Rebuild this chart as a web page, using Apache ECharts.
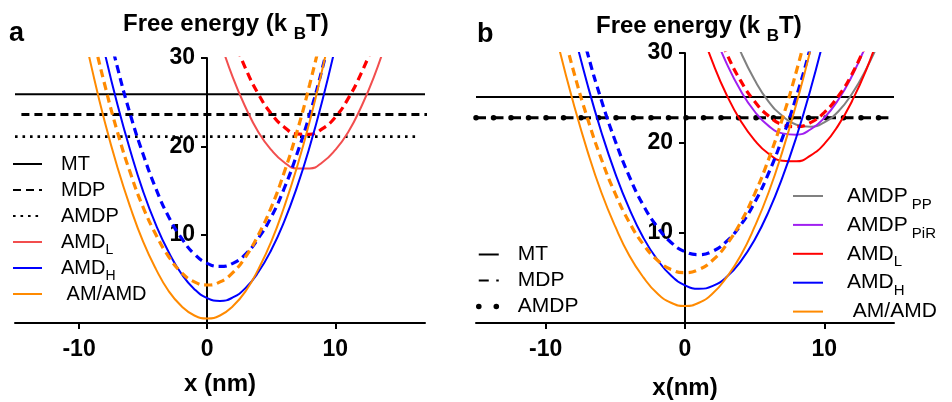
<!DOCTYPE html>
<html><head><meta charset="utf-8">
<script src="https://cdn.jsdelivr.net/npm/echarts@6/dist/echarts.min.js"></script>
<style>html,body{margin:0;padding:0;background:#fff}#c{width:952px;height:402px}</style>
</head><body><div id="c"></div>
<script>
// ---------- data ----------
const xTicks = [-10, 0, 10];
const yTicks = [10, 20, 30];
// Panel a : horizontal levels
const aMTx = [-15, 17],   aMTy = [25.9, 25.9];
const aMDPx = [-14.5, 17.2], aMDPy = [23.6, 23.6];
const aAMDPx = [-15, 16.6], aAMDPy = [21.1, 21.1];
// Panel a : profiles
const aAMx = [-10,-9,-8,-7,-6,-5,-4,-3,-2,-1,0,1,2,3,4,5,6,7,8,9,10];
const aAMy = [35.4,28.8,22.8,17.6,13.1,9.2,6.1,3.6,1.9,0.85,0.5,0.85,1.9,3.6,6.1,9.2,13.1,17.6,22.8,28.8,35.4];
const aAMdx = [-9,-8,-7,-6,-5,-4,-3,-2,-1,0,1,2,3,4,5,6,7,8,9];
const aAMdy = [33.0,27.0,21.6,17.0,13.1,10.0,7.5,5.7,4.65,4.3,4.65,5.7,7.5,10.0,13.1,17.0,21.6,27.0,33.0];
const aHx = [-9,-8,-7,-6,-5,-4,-3,-2,-1,0,1,2,3,4,5,6,7,8,9,10,11];
const aHy = [37.2,30.6,24.7,19.5,14.9,11.1,8.0,5.55,3.83,2.82,2.5,2.89,3.97,5.77,8.26,11.45,15.35,19.95,25.25,31.25,37.9];
const aHdx = [-8,-7,-6,-5,-4,-3,-2,-1,0,1,2,3,4,5,6,7,8,9,10];
const aHdy = [34.9,28.9,23.6,19.1,15.2,12.0,9.6,7.8,6.75,6.4,6.75,7.8,9.6,12.0,15.2,19.1,23.6,28.9,34.9];
const aLx = [1,2,3,4,5,6,7,8,9,10,11,12,13,14];
const aLy = [32.0,27.8,24.4,21.6,19.6,18.2,17.5,17.5,18.2,19.6,21.6,24.4,27.8,32.0];
const aLdx = [2,3,4,5,6,7,8,9,10,11,12,13];
const aLdy = [32.4,28.8,25.9,23.7,22.2,21.4,21.36,22.0,23.3,25.4,28.2,31.6];
// Panel b : horizontal levels
const bMTx = [-15, 15], bMTy = [25.1, 25.1];
const bMDPx = [-15, 14.6], bMDPy = [22.8, 22.8];
const bAMDPx = [-15, 14.6], bAMDPy = [22.8, 22.8];
// Panel b : profiles
const bAMx = [-10,-9,-8,-7,-6,-5,-4,-3,-2,-1,0,1,2,3,4,5,6,7,8,9,10];
const bAMy = [37.0,30.3,24.4,19.1,14.5,10.7,7.5,5.1,3.3,2.25,1.9,2.25,3.3,5.1,7.5,10.7,14.5,19.1,24.4,30.3,37.0];
const bAMdx = [-9,-8,-7,-6,-5,-4,-3,-2,-1,0,1,2,3,4,5,6,7,8,9];
const bAMdy = [33.95,28.0,22.75,18.2,14.35,11.2,8.75,7.0,5.95,5.6,5.95,7.0,8.75,11.2,14.35,18.2,22.75,28.0,33.95];
const bHx = [-9,-8,-7,-6,-5,-4,-3,-2,-1,0,1,2,3,4,5,6,7,8,9,10,11];
const bHy = [39.2,32.5,26.5,21.2,16.6,12.7,9.5,7.06,5.27,4.19,3.8,4.12,5.13,6.85,9.26,12.38,16.2,20.7,25.9,31.8,38.5];
const bHdx = [-8,-7,-6,-5,-4,-3,-2,-1,0,1,2,3,4,5,6,7,8,9,10];
const bHdy = [36.0,30.0,24.75,20.2,16.3,13.1,10.7,8.95,7.92,7.6,7.99,9.09,10.9,13.4,16.65,20.6,25.2,30.6,36.7];
const bLx = [1,2,3,4,5,6,7,8,9,10,11,12,13,14];
const bLy = [33.2,28.9,25.3,22.45,20.3,18.8,18.03,17.96,18.6,19.9,21.96,24.7,28.1,32.3];
const bLdx = [2,3,4,5,6,7,8,9,10,11,12,13];
const bLdy = [33.6,29.9,26.9,24.6,23.0,22.05,21.81,22.26,23.4,25.2,27.7,31.0];
const bPiRx = [2,3,4,5,6,7,8,9,10,11,12,13];
const bPiRy = [32.5,28.8,25.8,23.5,21.9,21.07,20.93,21.5,22.8,24.8,27.5,30.9];
const bPPx = [3,4,5,6,7,8,9,10,11,12,13,14];
const bPPy = [33.9,30.1,27.0,24.6,23.0,22.03,21.81,22.3,23.5,25.5,28.2,31.5];

// ---------- styling ----------
const FONT = '"Liberation Sans", Arial, sans-serif';
const ORANGE = '#ff8a00', BLUE = '#0000ff', LRED = '#f24e4e', RED = '#ff0000', PURPLE = '#a020f0', GRAY = '#808080';
const DASH = [8, 5];

function zip(xs, ys){ return xs.map((x,i)=>[x, ys[i]]); }
function mk(name, idx, xs, ys, color, lineType, width, cap){
  return {type:'line', name, xAxisIndex:idx, yAxisIndex:idx, data:zip(xs,ys), smooth: xs.length>2 ? 0.5 : false,
    symbol:'none', silent:true, clip:true,
    lineStyle:{color, width, type:lineType, cap: cap||'butt'}, itemStyle:{color}};
}
const series = [
  mk('a:MT',0,aMTx,aMTy,'#000','solid',2),
  mk('a:MDP',0,aMDPx,aMDPy,'#000',[8,5],3),
  mk('a:AMDP',0,aAMDPx,aAMDPy,'#000',[2.6,4.9],2.6),
  mk('a:AMD_L',0,aLx,aLy,LRED,'solid',2),
  mk('a:AMD_Ld',0,aLdx,aLdy,RED,DASH,3.2),
  mk('a:AMD_H',0,aHx,aHy,BLUE,'solid',2),
  mk('a:AMD_Hd',0,aHdx,aHdy,BLUE,DASH,3.2),
  mk('a:AM/AMD',0,aAMx,aAMy,ORANGE,'solid',2),
  mk('a:AM/AMDd',0,aAMdx,aAMdy,ORANGE,DASH,3.2),

  mk('b:MT',1,bMTx,bMTy,'#000','solid',2),
  mk('b:MDP',1,bMDPx,bMDPy,'#000',[10,7.5],3),
  mk('b:AMDP',1,bAMDPx,bAMDPy,'#000',[0.1,17.4],5.5,'round'),
  mk('b:AMDP_PP',1,bPPx,bPPy,GRAY,'solid',2),
  mk('b:AMDP_PiR',1,bPiRx,bPiRy,PURPLE,'solid',2),
  mk('b:AMD_L',1,bLx,bLy,RED,'solid',2),
  mk('b:AMD_Ld',1,bLdx,bLdy,RED,DASH,3.2),
  mk('b:AMD_H',1,bHx,bHy,BLUE,'solid',2),
  mk('b:AMD_Hd',1,bHdx,bHdy,BLUE,DASH,3.2),
  mk('b:AM/AMD',1,bAMx,bAMy,ORANGE,'solid',2),
  mk('b:AM/AMDd',1,bAMdx,bAMdy,ORANGE,DASH,3.2)
];

// every label ends with a subscript-style token so that all legend items get the same height
const labelMap = {
  'MT':'{f|MT}{s| }', 'MDP':'{f|MDP}{s| }', 'AMDP':'{f|AMDP}{s| }',
  'AMD_L':'{f|AMD}{s|L}', 'AMD_H':'{f|AMD}{s|H}', 'AM/AMD':'{f| AM/AMD}{s| }',
  'AMDP_PP':'{f|AMDP}{s| PP}', 'AMDP_PiR':'{f|AMDP}{s| PiR}'
};
function legendText(size, subSize, gap){
  return {color:'#000', fontFamily:FONT, fontSize:size,
    rich:{ f:{fontFamily:FONT, fontSize:size, color:'#000', lineHeight:size, padding:[0,0,0,gap]},
           s:{fontFamily:FONT, fontSize:subSize, color:'#000', padding:[size-4,0,0,0], lineHeight:4} } };
}
const legends = [
  {left:12, top:149, orient:'vertical', itemWidth:29, itemHeight:12, itemGap:-4,
   data:['a:MT','a:MDP','a:AMDP','a:AMD_L','a:AMD_H','a:AM/AMD'], textStyle:legendText(20,14,14)},
  {left:476, top:239, orient:'vertical', itemWidth:20, itemHeight:12, itemGap:-5,
   data:['b:MT','b:MDP',{name:'b:AMDP', lineStyle:{width:5.5}}], textStyle:legendText(21,14,14)},
  {left:792, top:180, orient:'vertical', itemWidth:30, itemHeight:12, itemGap:-3.1,
   data:['b:AMDP_PP','b:AMDP_PiR','b:AMD_L','b:AMD_H','b:AM/AMD'], textStyle:legendText(21,15,19)}
];
legends.forEach(l=>{ l.formatter = n => labelMap[n.slice(2)] || n.slice(2); l.selectedMode=false; l.padding=0;
  l.itemStyle = {opacity:0, borderWidth:0}; });

function xAx(idx, min, max, name, nameGap){
  return {type:'value', gridIndex:idx, min, max, interval:5,
    name, nameLocation:'middle', nameGap,
    nameTextStyle:{fontFamily:FONT, fontWeight:'bold', fontSize:24, color:'#000'},
    axisLine:{onZero:false, lineStyle:{color:'#000', width:2}},
    axisTick:{show:true, length:6, lineStyle:{color:'#000', width:2}, customValues:xTicks},
    axisLabel:{show:true, margin:15, fontFamily:FONT, fontWeight:'bold', fontSize:23, color:'#000', customValues:xTicks},
    splitLine:{show:false}};
}
function yAx(idx, offset){
  return {type:'value', gridIndex:idx, min:0, max:30, interval:10, position:'left', offset,
    axisLine:{onZero:false, lineStyle:{color:'#000', width:2}},
    axisTick:{show:true, length:6, lineStyle:{color:'#000', width:2}, customValues:yTicks},
    axisLabel:{show:true, margin:12, fontFamily:FONT, fontWeight:'bold', fontSize:23, color:'#000', customValues:yTicks},
    splitLine:{show:false}};
}
const titleRich = {
  t:{fontFamily:FONT, fontWeight:'bold', fontSize:24, color:'#000', lineHeight:26},
  s:{fontFamily:FONT, fontWeight:'bold', fontSize:17, color:'#000', padding:[20,0,0,0], lineHeight:6}
};
const option = {
  animation:false,
  backgroundColor:'#fff',
  grid:[{left:15, top:58, width:410, height:265, outerBoundsMode:'none', containLabel:false},
        {left:476, top:53, width:418, height:270, outerBoundsMode:'none', containLabel:false}],
  xAxis:[xAx(0,-15,17,'x (nm)',49), xAx(1,-15,15,'x(nm)',53)],
  yAxis:[yAx(0,-192), yAx(1,-209)],
  title:[
    {text:'{t|Free energy (k }{s|B}{t|T)}', left:123, top:11, padding:0, textStyle:{rich:titleRich}},
    {text:'{t|Free energy (k }{s|B}{t|T)}', left:596, top:13, padding:0, textStyle:{rich:titleRich}},
    {text:'a', left:9, top:20, padding:0, textStyle:{fontFamily:FONT, fontWeight:'bold', fontSize:27, color:'#000'}},
    {text:'b', left:477, top:21, padding:0, textStyle:{fontFamily:FONT, fontWeight:'bold', fontSize:27, color:'#000'}}
  ],
  legend:legends,
  series
};
const chart = echarts.init(document.getElementById('c'), null, {renderer:'canvas'});
chart.setOption(option);
</script></body></html>
